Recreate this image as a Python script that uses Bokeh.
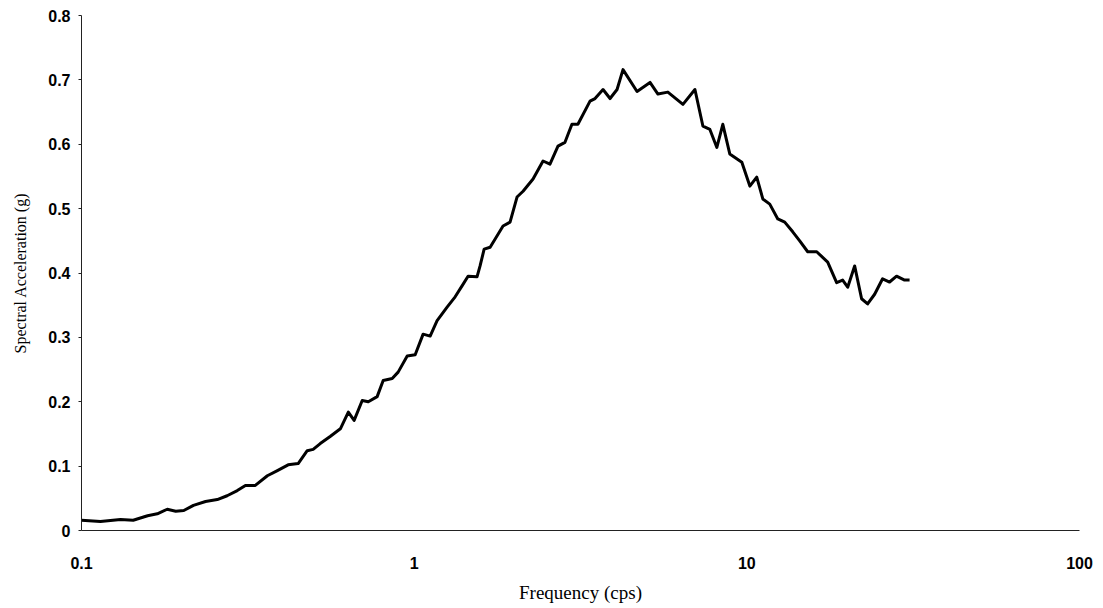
from bokeh.plotting import figure
from bokeh.models import Range1d, FixedTicker, CustomJSTickFormatter
from bokeh.embed import file_html
from bokeh.resources import INLINE

# Frequency (cps) and spectral acceleration (g)
freq = [0.100, 0.114, 0.131, 0.143, 0.158, 0.169, 0.181, 0.192, 0.203, 0.217,
        0.236, 0.256, 0.274, 0.294, 0.311, 0.333, 0.362, 0.388, 0.418, 0.448,
        0.477, 0.497, 0.522, 0.559, 0.600, 0.634, 0.660, 0.698, 0.728, 0.774,
        0.807, 0.859, 0.895, 0.953, 1.007, 1.064, 1.117, 1.172, 1.256, 1.328,
        1.393, 1.452, 1.545, 1.578, 1.623, 1.692, 1.850, 1.942, 2.038, 2.125,
        2.277, 2.440, 2.560, 2.706, 2.840, 2.980, 3.106, 3.378, 3.497, 3.696,
        3.880, 4.073, 4.244, 4.677, 5.116, 5.405, 5.789, 6.426, 6.982, 7.380,
        7.744, 8.126, 8.469, 8.887, 9.660, 10.21, 10.71, 11.17, 11.72, 12.39,
        13.00, 13.74, 14.42, 15.24, 16.22, 17.50, 18.62, 19.41, 20.10, 21.09,
        22.13, 23.07, 24.22, 25.59, 26.86, 28.19, 29.80, 30.85]
accel = [0.016, 0.014, 0.017, 0.016, 0.023, 0.026, 0.033, 0.030, 0.031, 0.039,
         0.045, 0.048, 0.054, 0.062, 0.070, 0.070, 0.085, 0.093, 0.102, 0.104,
         0.124, 0.126, 0.135, 0.146, 0.158, 0.184, 0.171, 0.202, 0.200, 0.208,
         0.233, 0.236, 0.246, 0.271, 0.273, 0.305, 0.302, 0.326, 0.347, 0.363,
         0.380, 0.395, 0.394, 0.411, 0.437, 0.440, 0.473, 0.479, 0.518, 0.527,
         0.546, 0.574, 0.569, 0.597, 0.603, 0.631, 0.631, 0.667, 0.671, 0.685,
         0.671, 0.685, 0.716, 0.682, 0.696, 0.678, 0.681, 0.662, 0.685, 0.628,
         0.623, 0.595, 0.631, 0.585, 0.572, 0.535, 0.549, 0.515, 0.507, 0.484,
         0.479, 0.464, 0.450, 0.433, 0.433, 0.417, 0.385, 0.389, 0.378, 0.411,
         0.360, 0.352, 0.367, 0.391, 0.386, 0.395, 0.389, 0.389]

x_ticks = [0.1, 1, 10, 100]
y_ticks = [0, 0.1, 0.2, 0.3, 0.4, 0.5, 0.6, 0.7, 0.8]

p = figure(width=1097, height=605, x_axis_type="log",
           x_range=Range1d(0.1, 100), y_range=Range1d(0, 0.8),
           output_backend="svg", toolbar_location=None,
           min_border_left=81, min_border_right=18, min_border_top=15,
           min_border_bottom=74)
p.outline_line_color = None
p.xgrid.visible = False
p.ygrid.visible = False
p.background_fill_color = "white"

p.line(freq, accel, line_color="black", line_width=3, line_join="round")

p.xaxis.ticker = FixedTicker(ticks=x_ticks, minor_ticks=[])
p.xaxis.formatter = CustomJSTickFormatter(code="return tick >= 1 ? tick.toFixed(0) : tick.toFixed(1);")
p.yaxis.ticker = FixedTicker(ticks=y_ticks, minor_ticks=[])
p.yaxis.formatter = CustomJSTickFormatter(code="return tick == 0 ? '0' : tick.toFixed(1);")

for ax in (p.xaxis[0], p.yaxis[0]):
    ax.axis_line_color = "#222222"
    ax.axis_line_width = 1
    ax.major_label_text_font = "Liberation Sans"
    ax.major_label_text_font_style = "bold"
    ax.major_label_text_font_size = "16px"
    ax.major_label_text_color = "black"
    ax.axis_label_text_font = "Liberation Serif"
    ax.axis_label_text_font_style = "normal"
    ax.axis_label_text_color = "black"
    ax.minor_tick_line_color = None

p.xaxis.major_tick_line_color = None
p.xaxis.major_label_standoff = 20
p.xaxis.axis_label = "Frequency (cps)"
p.xaxis.axis_label_text_font_size = "19px"
p.xaxis.axis_label_standoff = 10

p.yaxis.major_tick_line_color = "#222222"
p.yaxis.major_tick_out = 3
p.yaxis.major_tick_in = 0
p.yaxis.major_label_standoff = 8
p.yaxis.axis_label = "Spectral Acceleration (g)"
p.yaxis.axis_label_text_font_size = "16px"
p.yaxis.axis_label_standoff = 16

open("out.html", "w").write(file_html(p, INLINE))
